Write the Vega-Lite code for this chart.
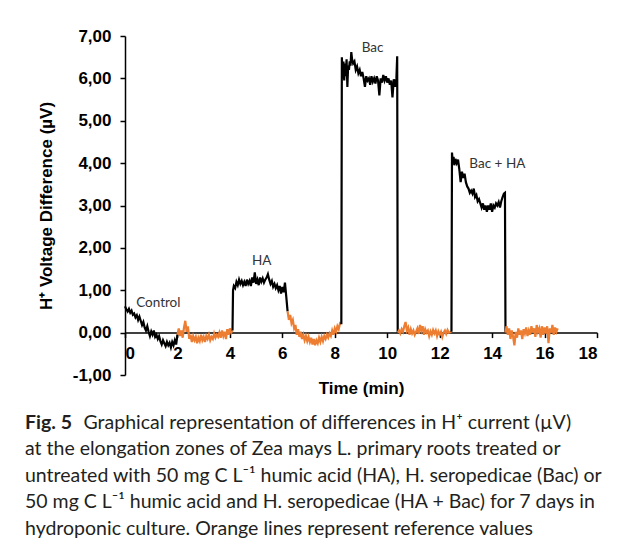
{
  "$schema": "https://vega.github.io/schema/vega-lite/v6.json",
  "width": 472,
  "height": 339,
  "autosize": {"type": "none"},
  "padding": {"left": 125, "top": 36, "right": 28, "bottom": 171},
  "background": "white",
  "config": {
    "view": {"stroke": null},
    "font": "Liberation Sans",
    "axis": {
      "grid": false,
      "domainColor": "black",
      "domainWidth": 1.5,
      "tickColor": "black",
      "tickWidth": 1.5,
      "tickSize": 5,
      "labelFont": "Liberation Sans",
      "labelFontWeight": "bold",
      "labelFontSize": 17,
      "labelColor": "black",
      "titleFont": "Liberation Sans",
      "titleFontWeight": "bold",
      "titleFontSize": 17,
      "titleColor": "black"
    }
  },
  "title": {
    "text": "Fig. 5",
    "subtitle": [
      "\u200b\u2003\u2003\u2003\u2003Graphical representation of differences in H\u207a current (\u00b5V)",
      "at the elongation zones of Zea mays L. primary roots treated or",
      "untreated with 50 mg C L\u207b\u00b9 humic acid (HA), H. seropedicae (Bac) or",
      "50 mg C L\u207b\u00b9 humic acid and H. seropedicae (HA + Bac) for 7 days in",
      "hydroponic culture. Orange lines represent reference values"
    ],
    "orient": "bottom",
    "anchor": "start",
    "frame": "group",
    "dx": -100,
    "offset": 17,
    "font": "Lato",
    "fontSize": 19.5,
    "fontWeight": "bold",
    "color": "#231f20",
    "subtitleFont": "Lato",
    "subtitleFontSize": 19.5,
    "subtitleFontWeight": "normal",
    "subtitleColor": "#231f20",
    "subtitleLineHeight": 26.5,
    "subtitlePadding": -19.5
  },
  "datasets": {
    "trace": [
      {"t":0.00,"v":0.62,"s":"C"},{"t":0.05,"v":0.55,"s":"C"},{"t":0.10,"v":0.50,"s":"C"},{"t":0.15,"v":0.56,"s":"C"},{"t":0.20,"v":0.47,"s":"C"},{"t":0.25,"v":0.52,"s":"C"},{"t":0.30,"v":0.42,"s":"C"},{"t":0.35,"v":0.45,"s":"C"},{"t":0.40,"v":0.36,"s":"C"},{"t":0.45,"v":0.41,"s":"C"},{"t":0.50,"v":0.30,"s":"C"},{"t":0.55,"v":0.38,"s":"C"},{"t":0.60,"v":0.28,"s":"C"},{"t":0.65,"v":0.18,"s":"C"},{"t":0.70,"v":0.25,"s":"C"},{"t":0.75,"v":0.12,"s":"C"},{"t":0.80,"v":0.05,"s":"C"},{"t":0.85,"v":0.15,"s":"C"},{"t":0.90,"v":0.02,"s":"C"},{"t":0.95,"v":-0.08,"s":"C"},{"t":1.00,"v":0.03,"s":"C"},{"t":1.05,"v":-0.05,"s":"C"},{"t":1.10,"v":0.05,"s":"C"},{"t":1.15,"v":-0.10,"s":"C"},{"t":1.20,"v":-0.05,"s":"C"},{"t":1.25,"v":-0.15,"s":"C"},{"t":1.30,"v":-0.08,"s":"C"},{"t":1.35,"v":-0.20,"s":"C"},{"t":1.40,"v":-0.28,"s":"C"},{"t":1.45,"v":-0.18,"s":"C"},{"t":1.50,"v":-0.25,"s":"C"},{"t":1.55,"v":-0.32,"s":"C"},{"t":1.60,"v":-0.22,"s":"C"},{"t":1.65,"v":-0.30,"s":"C"},{"t":1.70,"v":-0.24,"s":"C"},{"t":1.75,"v":-0.35,"s":"C"},{"t":1.80,"v":-0.22,"s":"C"},{"t":1.85,"v":-0.30,"s":"C"},{"t":1.90,"v":-0.18,"s":"C"},{"t":1.95,"v":-0.28,"s":"C"},{"t":2.00,"v":-0.05,"s":"C"},
      {"t":2.00,"v":-0.05,"s":"R1"},{"t":2.05,"v":0.10,"s":"R1"},{"t":2.10,"v":-0.08,"s":"R1"},{"t":2.15,"v":0.05,"s":"R1"},{"t":2.20,"v":-0.12,"s":"R1"},{"t":2.25,"v":0.12,"s":"R1"},{"t":2.30,"v":0.28,"s":"R1"},{"t":2.35,"v":0.02,"s":"R1"},{"t":2.40,"v":0.15,"s":"R1"},{"t":2.45,"v":-0.15,"s":"R1"},{"t":2.50,"v":-0.05,"s":"R1"},{"t":2.55,"v":-0.22,"s":"R1"},{"t":2.60,"v":-0.08,"s":"R1"},{"t":2.65,"v":-0.18,"s":"R1"},{"t":2.70,"v":-0.10,"s":"R1"},{"t":2.75,"v":-0.25,"s":"R1"},{"t":2.80,"v":-0.12,"s":"R1"},{"t":2.85,"v":-0.20,"s":"R1"},{"t":2.90,"v":-0.05,"s":"R1"},{"t":2.95,"v":-0.18,"s":"R1"},{"t":3.00,"v":-0.10,"s":"R1"},{"t":3.05,"v":-0.22,"s":"R1"},{"t":3.10,"v":-0.08,"s":"R1"},{"t":3.15,"v":-0.15,"s":"R1"},{"t":3.20,"v":-0.05,"s":"R1"},{"t":3.25,"v":-0.18,"s":"R1"},{"t":3.30,"v":-0.10,"s":"R1"},{"t":3.35,"v":-0.15,"s":"R1"},{"t":3.40,"v":-0.02,"s":"R1"},{"t":3.45,"v":-0.12,"s":"R1"},{"t":3.50,"v":-0.05,"s":"R1"},{"t":3.55,"v":-0.10,"s":"R1"},{"t":3.60,"v":0.00,"s":"R1"},{"t":3.65,"v":-0.12,"s":"R1"},{"t":3.70,"v":0.05,"s":"R1"},{"t":3.75,"v":-0.08,"s":"R1"},{"t":3.80,"v":0.02,"s":"R1"},{"t":3.85,"v":-0.15,"s":"R1"},{"t":3.90,"v":0.08,"s":"R1"},{"t":3.95,"v":-0.05,"s":"R1"},{"t":4.00,"v":0.10,"s":"R1"},{"t":4.05,"v":0.00,"s":"R1"},{"t":4.10,"v":0.05,"s":"R1"},
      {"t":4.10,"v":0.05,"s":"HA"},{"t":4.12,"v":1.00,"s":"HA"},{"t":4.15,"v":1.10,"s":"HA"},{"t":4.20,"v":1.05,"s":"HA"},{"t":4.25,"v":1.20,"s":"HA"},{"t":4.30,"v":1.12,"s":"HA"},{"t":4.35,"v":1.25,"s":"HA"},{"t":4.40,"v":1.15,"s":"HA"},{"t":4.45,"v":1.22,"s":"HA"},{"t":4.50,"v":1.12,"s":"HA"},{"t":4.55,"v":1.20,"s":"HA"},{"t":4.60,"v":1.10,"s":"HA"},{"t":4.65,"v":1.25,"s":"HA"},{"t":4.70,"v":1.15,"s":"HA"},{"t":4.75,"v":1.22,"s":"HA"},{"t":4.80,"v":1.10,"s":"HA"},{"t":4.85,"v":1.30,"s":"HA"},{"t":4.90,"v":1.18,"s":"HA"},{"t":4.95,"v":1.42,"s":"HA"},{"t":5.00,"v":1.15,"s":"HA"},{"t":5.05,"v":1.25,"s":"HA"},{"t":5.10,"v":1.12,"s":"HA"},{"t":5.15,"v":1.30,"s":"HA"},{"t":5.20,"v":1.20,"s":"HA"},{"t":5.25,"v":1.28,"s":"HA"},{"t":5.30,"v":1.18,"s":"HA"},{"t":5.35,"v":1.25,"s":"HA"},{"t":5.40,"v":1.30,"s":"HA"},{"t":5.45,"v":1.38,"s":"HA"},{"t":5.50,"v":1.25,"s":"HA"},{"t":5.55,"v":1.15,"s":"HA"},{"t":5.60,"v":1.22,"s":"HA"},{"t":5.65,"v":1.08,"s":"HA"},{"t":5.70,"v":1.15,"s":"HA"},{"t":5.75,"v":1.05,"s":"HA"},{"t":5.80,"v":1.12,"s":"HA"},{"t":5.85,"v":1.00,"s":"HA"},{"t":5.90,"v":1.10,"s":"HA"},{"t":5.95,"v":0.92,"s":"HA"},{"t":6.00,"v":1.08,"s":"HA"},{"t":6.05,"v":0.95,"s":"HA"},{"t":6.10,"v":1.18,"s":"HA"},{"t":6.15,"v":0.85,"s":"HA"},{"t":6.20,"v":0.50,"s":"HA"},
      {"t":6.20,"v":0.50,"s":"R2"},{"t":6.25,"v":0.30,"s":"R2"},{"t":6.30,"v":0.42,"s":"R2"},{"t":6.35,"v":0.22,"s":"R2"},{"t":6.40,"v":0.30,"s":"R2"},{"t":6.45,"v":0.10,"s":"R2"},{"t":6.50,"v":0.18,"s":"R2"},{"t":6.55,"v":-0.05,"s":"R2"},{"t":6.60,"v":0.08,"s":"R2"},{"t":6.65,"v":-0.10,"s":"R2"},{"t":6.70,"v":0.02,"s":"R2"},{"t":6.75,"v":-0.15,"s":"R2"},{"t":6.80,"v":-0.05,"s":"R2"},{"t":6.85,"v":-0.18,"s":"R2"},{"t":6.90,"v":-0.08,"s":"R2"},{"t":6.95,"v":-0.20,"s":"R2"},{"t":7.00,"v":-0.10,"s":"R2"},{"t":7.05,"v":-0.22,"s":"R2"},{"t":7.10,"v":-0.12,"s":"R2"},{"t":7.15,"v":-0.28,"s":"R2"},{"t":7.20,"v":-0.15,"s":"R2"},{"t":7.25,"v":-0.30,"s":"R2"},{"t":7.30,"v":-0.18,"s":"R2"},{"t":7.35,"v":-0.25,"s":"R2"},{"t":7.40,"v":-0.12,"s":"R2"},{"t":7.45,"v":-0.22,"s":"R2"},{"t":7.50,"v":-0.10,"s":"R2"},{"t":7.55,"v":-0.20,"s":"R2"},{"t":7.60,"v":-0.08,"s":"R2"},{"t":7.65,"v":-0.15,"s":"R2"},{"t":7.70,"v":-0.05,"s":"R2"},{"t":7.75,"v":-0.12,"s":"R2"},{"t":7.80,"v":-0.02,"s":"R2"},{"t":7.85,"v":-0.08,"s":"R2"},{"t":7.90,"v":0.05,"s":"R2"},{"t":7.95,"v":-0.05,"s":"R2"},{"t":8.00,"v":0.10,"s":"R2"},{"t":8.05,"v":0.02,"s":"R2"},{"t":8.10,"v":0.15,"s":"R2"},{"t":8.15,"v":0.08,"s":"R2"},{"t":8.20,"v":0.22,"s":"R2"},{"t":8.25,"v":0.20,"s":"R2"},
      {"t":8.25,"v":0.20,"s":"B"},{"t":8.27,"v":6.50,"s":"B"},{"t":8.30,"v":6.00,"s":"B"},{"t":8.33,"v":6.40,"s":"B"},{"t":8.36,"v":5.95,"s":"B"},{"t":8.39,"v":6.35,"s":"B"},{"t":8.42,"v":6.05,"s":"B"},{"t":8.45,"v":6.45,"s":"B"},{"t":8.48,"v":5.80,"s":"B"},{"t":8.51,"v":6.30,"s":"B"},{"t":8.54,"v":6.20,"s":"B"},{"t":8.57,"v":6.40,"s":"B"},{"t":8.60,"v":6.30,"s":"B"},{"t":8.63,"v":6.62,"s":"B"},{"t":8.66,"v":6.45,"s":"B"},{"t":8.70,"v":6.35,"s":"B"},{"t":8.75,"v":6.40,"s":"B"},{"t":8.80,"v":6.20,"s":"B"},{"t":8.85,"v":6.28,"s":"B"},{"t":8.90,"v":6.12,"s":"B"},{"t":8.95,"v":6.20,"s":"B"},{"t":9.00,"v":6.05,"s":"B"},{"t":9.05,"v":6.15,"s":"B"},{"t":9.10,"v":6.00,"s":"B"},{"t":9.15,"v":5.80,"s":"B"},{"t":9.20,"v":6.05,"s":"B"},{"t":9.25,"v":5.95,"s":"B"},{"t":9.30,"v":6.00,"s":"B"},{"t":9.35,"v":5.85,"s":"B"},{"t":9.40,"v":6.05,"s":"B"},{"t":9.45,"v":5.92,"s":"B"},{"t":9.50,"v":6.00,"s":"B"},{"t":9.55,"v":5.88,"s":"B"},{"t":9.60,"v":6.05,"s":"B"},{"t":9.65,"v":5.95,"s":"B"},{"t":9.70,"v":5.60,"s":"B"},{"t":9.75,"v":6.00,"s":"B"},{"t":9.80,"v":5.90,"s":"B"},{"t":9.85,"v":6.08,"s":"B"},{"t":9.90,"v":5.95,"s":"B"},{"t":9.95,"v":6.05,"s":"B"},{"t":10.00,"v":5.90,"s":"B"},{"t":10.05,"v":6.00,"s":"B"},{"t":10.10,"v":5.85,"s":"B"},{"t":10.15,"v":5.95,"s":"B"},{"t":10.20,"v":5.55,"s":"B"},{"t":10.25,"v":5.98,"s":"B"},{"t":10.30,"v":5.80,"s":"B"},{"t":10.35,"v":6.00,"s":"B"},{"t":10.38,"v":6.52,"s":"B"},{"t":10.40,"v":0.00,"s":"B"},
      {"t":10.40,"v":0.00,"s":"R3"},{"t":10.45,"v":0.05,"s":"R3"},{"t":10.50,"v":-0.02,"s":"R3"},{"t":10.55,"v":0.08,"s":"R3"},{"t":10.60,"v":0.02,"s":"R3"},{"t":10.65,"v":0.15,"s":"R3"},{"t":10.70,"v":0.25,"s":"R3"},{"t":10.75,"v":0.05,"s":"R3"},{"t":10.80,"v":0.12,"s":"R3"},{"t":10.85,"v":-0.05,"s":"R3"},{"t":10.90,"v":0.08,"s":"R3"},{"t":10.95,"v":-0.02,"s":"R3"},{"t":11.00,"v":0.05,"s":"R3"},{"t":11.05,"v":-0.05,"s":"R3"},{"t":11.10,"v":0.02,"s":"R3"},{"t":11.15,"v":0.10,"s":"R3"},{"t":11.20,"v":-0.03,"s":"R3"},{"t":11.25,"v":0.18,"s":"R3"},{"t":11.30,"v":0.05,"s":"R3"},{"t":11.35,"v":0.15,"s":"R3"},{"t":11.40,"v":-0.05,"s":"R3"},{"t":11.45,"v":0.08,"s":"R3"},{"t":11.50,"v":0.00,"s":"R3"},{"t":11.55,"v":0.05,"s":"R3"},{"t":11.60,"v":-0.08,"s":"R3"},{"t":11.65,"v":0.03,"s":"R3"},{"t":11.70,"v":-0.05,"s":"R3"},{"t":11.75,"v":0.06,"s":"R3"},{"t":11.80,"v":-0.02,"s":"R3"},{"t":11.85,"v":0.05,"s":"R3"},{"t":11.90,"v":-0.08,"s":"R3"},{"t":11.95,"v":0.03,"s":"R3"},{"t":12.00,"v":-0.05,"s":"R3"},{"t":12.05,"v":0.02,"s":"R3"},{"t":12.10,"v":-0.10,"s":"R3"},{"t":12.15,"v":0.00,"s":"R3"},{"t":12.20,"v":0.05,"s":"R3"},{"t":12.25,"v":-0.03,"s":"R3"},{"t":12.30,"v":0.06,"s":"R3"},{"t":12.35,"v":0.00,"s":"R3"},{"t":12.45,"v":0.02,"s":"R3"},
      {"t":12.45,"v":0.02,"s":"BH"},{"t":12.47,"v":4.25,"s":"BH"},{"t":12.50,"v":4.00,"s":"BH"},{"t":12.53,"v":4.15,"s":"BH"},{"t":12.56,"v":3.95,"s":"BH"},{"t":12.60,"v":4.10,"s":"BH"},{"t":12.65,"v":4.00,"s":"BH"},{"t":12.70,"v":4.08,"s":"BH"},{"t":12.75,"v":3.85,"s":"BH"},{"t":12.80,"v":3.55,"s":"BH"},{"t":12.85,"v":3.80,"s":"BH"},{"t":12.90,"v":3.65,"s":"BH"},{"t":12.95,"v":3.75,"s":"BH"},{"t":13.00,"v":3.55,"s":"BH"},{"t":13.05,"v":3.45,"s":"BH"},{"t":13.10,"v":3.40,"s":"BH"},{"t":13.15,"v":3.30,"s":"BH"},{"t":13.20,"v":3.35,"s":"BH"},{"t":13.25,"v":3.28,"s":"BH"},{"t":13.30,"v":3.40,"s":"BH"},{"t":13.35,"v":3.20,"s":"BH"},{"t":13.40,"v":3.25,"s":"BH"},{"t":13.45,"v":3.10,"s":"BH"},{"t":13.50,"v":3.15,"s":"BH"},{"t":13.55,"v":3.05,"s":"BH"},{"t":13.60,"v":2.95,"s":"BH"},{"t":13.65,"v":3.05,"s":"BH"},{"t":13.70,"v":2.90,"s":"BH"},{"t":13.75,"v":3.00,"s":"BH"},{"t":13.80,"v":2.85,"s":"BH"},{"t":13.85,"v":3.00,"s":"BH"},{"t":13.90,"v":2.90,"s":"BH"},{"t":13.95,"v":3.05,"s":"BH"},{"t":14.00,"v":2.85,"s":"BH"},{"t":14.05,"v":3.00,"s":"BH"},{"t":14.10,"v":2.95,"s":"BH"},{"t":14.15,"v":3.05,"s":"BH"},{"t":14.20,"v":3.00,"s":"BH"},{"t":14.25,"v":3.08,"s":"BH"},{"t":14.30,"v":2.95,"s":"BH"},{"t":14.35,"v":3.10,"s":"BH"},{"t":14.40,"v":3.20,"s":"BH"},{"t":14.45,"v":3.28,"s":"BH"},{"t":14.49,"v":3.30,"s":"BH"},{"t":14.51,"v":0.00,"s":"BH"},
      {"t":14.51,"v":0.00,"s":"R4"},{"t":14.55,"v":0.15,"s":"R4"},{"t":14.60,"v":-0.05,"s":"R4"},{"t":14.65,"v":0.10,"s":"R4"},{"t":14.70,"v":-0.15,"s":"R4"},{"t":14.75,"v":0.05,"s":"R4"},{"t":14.80,"v":-0.10,"s":"R4"},{"t":14.85,"v":-0.30,"s":"R4"},{"t":14.90,"v":0.02,"s":"R4"},{"t":14.95,"v":-0.12,"s":"R4"},{"t":15.00,"v":0.10,"s":"R4"},{"t":15.05,"v":-0.05,"s":"R4"},{"t":15.10,"v":0.05,"s":"R4"},{"t":15.15,"v":-0.15,"s":"R4"},{"t":15.20,"v":0.08,"s":"R4"},{"t":15.25,"v":-0.02,"s":"R4"},{"t":15.30,"v":0.12,"s":"R4"},{"t":15.35,"v":-0.08,"s":"R4"},{"t":15.40,"v":0.05,"s":"R4"},{"t":15.45,"v":-0.05,"s":"R4"},{"t":15.50,"v":0.15,"s":"R4"},{"t":15.55,"v":0.00,"s":"R4"},{"t":15.60,"v":0.10,"s":"R4"},{"t":15.65,"v":-0.10,"s":"R4"},{"t":15.70,"v":0.18,"s":"R4"},{"t":15.75,"v":0.02,"s":"R4"},{"t":15.80,"v":0.10,"s":"R4"},{"t":15.85,"v":-0.12,"s":"R4"},{"t":15.90,"v":0.15,"s":"R4"},{"t":15.95,"v":-0.05,"s":"R4"},{"t":16.00,"v":0.12,"s":"R4"},{"t":16.05,"v":-0.02,"s":"R4"},{"t":16.10,"v":0.15,"s":"R4"},{"t":16.15,"v":-0.25,"s":"R4"},{"t":16.20,"v":0.10,"s":"R4"},{"t":16.25,"v":0.00,"s":"R4"},{"t":16.30,"v":0.18,"s":"R4"},{"t":16.35,"v":-0.05,"s":"R4"},{"t":16.40,"v":0.12,"s":"R4"},{"t":16.45,"v":0.02,"s":"R4"},{"t":16.50,"v":0.10,"s":"R4"}
    ],
    "labels": [
      {"t": 1.27, "v": 0.71, "label": "Control"},
      {"t": 5.21, "v": 1.68, "label": "HA"},
      {"t": 9.44, "v": 6.71, "label": "Bac"},
      {"t": 14.2, "v": 3.98, "label": "Bac + HA"}
    ]
  },
  "layer": [
    {
      "data": {"name": "trace"},
      "mark": {"type": "line", "strokeWidth": 2.2, "interpolate": "linear"},
      "encoding": {
        "x": {
          "field": "t", "type": "quantitative",
          "scale": {"domain": [0, 18], "nice": false},
          "axis": {
            "title": "Time (min)",
            "values": [0, 2, 4, 6, 8, 10, 12, 14, 16, 18],
            "offset": -42.4,
            "labelPadding": 8,
            "titlePadding": 19
          }
        },
        "y": {
          "field": "v", "type": "quantitative",
          "scale": {"domain": [-1, 7], "nice": false, "zero": false},
          "axis": {
            "title": "H\u207a Voltage Difference (\u00b5V)",
            "values": [-1, 0, 1, 2, 3, 4, 5, 6, 7],
            "labelExpr": "(datum.value < 0 ? '-' : '') + replace(format(abs(datum.value), '.2f'), '.', ',')",
            "labelPadding": 9,
            "titlePadding": 17
          }
        },
        "color": {
          "field": "s", "type": "nominal",
          "scale": {
            "domain": ["C", "HA", "B", "BH", "R1", "R2", "R3", "R4"],
            "range": ["#000000", "#000000", "#000000", "#000000", "#ED7D31", "#ED7D31", "#ED7D31", "#ED7D31"]
          },
          "legend": null
        },
        "order": {"field": "t", "type": "quantitative"}
      }
    },
    {
      "data": {"name": "labels"},
      "mark": {"type": "text", "font": "Lato", "fontSize": 13.5, "color": "#333333", "align": "center", "baseline": "middle"},
      "encoding": {
        "x": {"field": "t", "type": "quantitative"},
        "y": {"field": "v", "type": "quantitative"},
        "text": {"field": "label"}
      }
    }
  ]
}
